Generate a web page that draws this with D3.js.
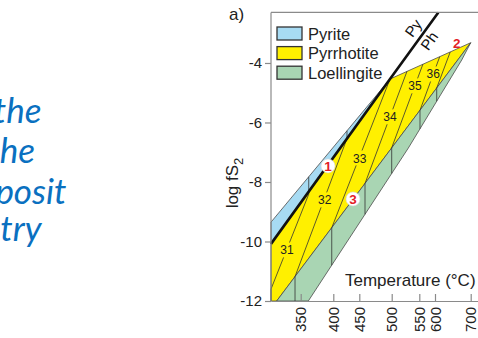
<!DOCTYPE html>
<html>
<head>
<meta charset="utf-8">
<script src="https://cdn.jsdelivr.net/npm/d3@7"></script>
<style>
  body { margin: 0; background: #fff; }
  svg { display: block; }
</style>
</head>
<body>
<svg id="chart" width="478" height="338"></svg>
<script>
// ---- Axis ticks -------------------------------------------------------
const tempTicks = [350, 400, 450, 500, 550, 600, 700];      // °C
const logTicks = [-4, -6, -8, -10, -12];                     // log fS2

// ---- Stability fields (temperature °C, log fS2) ----------------------
const phaseNames = ["Pyrite", "Pyrrhotite", "Loellingite"];
const phaseColors = ["#a7dbf3", "#fff000", "#a9d5b3"];

const pyPhBoundary = [[305, -10.08], [497.4, -4.54], [609.3, -2.30]];
const pyriteField = [[305, -9.35], [497.4, -4.54], [305, -10.08]];
const pyrrhotiteField = [[305, -10.08], [497.4, -4.54], [700, -3.32], [313.6, -12], [305, -12]];
const loellingiteField = [[313.6, -12], [700, -3.32], [674.8, -3.90], [530.1, -6.86], [361.7, -12]];
const pyriteUpperEdge = [[305, -9.35], [497.4, -4.54]];
const loellingiteLowerEdge = [[361.7, -12], [530.1, -6.86], [674.8, -3.90], [700, -3.32]];

// ---- Isopleths across the pyrrhotite field ----------------------------
const isoValues = [31, 32, 33, 34, 35, 36, 37];
const isoLow = [[305, -11.60], [341.4, -11.18], [397.6, -9.54], [458.8, -8.05], [500, -6.85], [552.2, -5.59], [604.8, -4.84]];
const isoHigh = [[362.3, -8.41], [426.3, -6.54], [497.4, -4.54], [527.7, -4.28], [561.5, -4.04], [613.2, -3.79], [642.6, -3.63]];
const isoLabelAt = [[329.2, -10.29], [386.8, -8.61], [450.6, -7.20], [497.4, -5.81], [542.2, -4.77], [594.6, -4.37], null];

// ---- Numbered sample points ------------------------------------------
const pointIds = ["1", "2", "3"];
const pointAt = [[391.9, -7.46], [660.8, -3.32], [437.9, -8.57]];
const pointCircled = [true, false, true];

// ---- Reaction line labels (text, temperature, log fS2) -----------------
const reactionLabels = [["Py", 539.1, -2.83], ["Ph", 581.9, -3.26]];

// ---- Side caption words ----------------------------------------------
const sideWords = ["the", "the", "posit", "try"];

// ======================================================================
const svg = d3.select("#chart");
const font = "'Liberation Sans', Arial, sans-serif";
const plotLeft = 271, plotRight = 478;

// The temperature axis is drawn with uneven tick spacing, so the scale is piecewise.
const tempStops = [305, 350, 400, 450, 500, 550, 600, 700, 720];
const stopOffsets = [0, 29.7, 62.3, 88.3, 120.7, 148.3, 164, 199.7, 207];
const x = d3.scaleLinear().domain(tempStops).range(stopOffsets.map(d => plotLeft + d));
const y = d3.scaleLinear().domain([-12, -2.3]).range([301, 12.4]);

const proj = p => [x(p[0]), y(p[1])];
const line = d3.line().x(d => x(d[0])).y(d => y(d[1]));

// pixel y along a projected polyline at the pixel column of temperature T
function edgeY(poly, T) {
  const px = x(T);
  const pts = poly.map(proj);
  for (let i = 0; i < pts.length - 1; i++) {
    const [x0, y0] = pts[i], [x1, y1] = pts[i + 1];
    if (px >= Math.min(x0, x1) && px <= Math.max(x0, x1) && x1 !== x0) {
      return y0 + (y1 - y0) * (px - x0) / (x1 - x0);
    }
  }
  return null;
}

// ---- Side caption ----------------------------------------------------
const sideEnd = [41.5, 35, 66.5, 41.5];
const sideBase = [123, 163, 204, 241];
svg.append("g").selectAll("text").data(sideWords).join("text")
  .attr("x", (d, i) => sideEnd[i])
  .attr("y", (d, i) => sideBase[i])
  .attr("text-anchor", "end")
  .attr("font-family", "Lato, 'Open Sans', sans-serif")
  .attr("font-style", "italic")
  .attr("font-size", 35)
  .attr("fill", "#0a70c0")
  .text(d => d);

// ---- Fields ------------------------------------------------------------
const fields = [pyriteField, pyrrhotiteField, loellingiteField];
svg.append("g").selectAll("path").data(fields).join("path")
  .attr("d", d => line(d) + "Z")
  .attr("fill", (d, i) => phaseColors[i])
  .attr("stroke", "#4a4a4a")
  .attr("stroke-width", 0.8)
  .attr("stroke-linejoin", "round");

// ---- Isopleths -----------------------------------------------------------
const isoG = svg.append("g").attr("stroke", "#333").attr("stroke-width", 0.8).attr("fill", "none");
const cornerT = pyPhBoundary[1][0];
isoValues.forEach((v, i) => {
  const a = proj(isoLow[i]), b = proj(isoHigh[i]);
  const lab = isoLabelAt[i];
  if (lab) {
    const p = proj(lab);
    const dx = b[0] - a[0], dy = b[1] - a[1];
    const len = Math.hypot(dx, dy);
    const t = ((p[0] - a[0]) * dx + (p[1] - a[1]) * dy) / (len * len);
    const g = 8 / len;
    isoG.append("line").attr("x1", a[0]).attr("y1", a[1])
      .attr("x2", a[0] + dx * (t - g)).attr("y2", a[1] + dy * (t - g));
    isoG.append("line").attr("x1", a[0] + dx * (t + g)).attr("y1", a[1] + dy * (t + g))
      .attr("x2", b[0]).attr("y2", b[1]);
  } else {
    isoG.append("line").attr("x1", a[0]).attr("y1", a[1]).attr("x2", b[0]).attr("y2", b[1]);
  }
  // vertical continuation through the loellingite field
  if (isoLow[i][1] > -12) {
    const yb = isoLow[i][0] < loellingiteLowerEdge[0][0] ? y(-12) : edgeY(loellingiteLowerEdge, isoLow[i][0]);
    isoG.append("line").attr("x1", a[0]).attr("y1", a[1]).attr("x2", a[0]).attr("y2", yb);
  }
  // vertical continuation through the pyrite field
  if (isoHigh[i][0] < cornerT - 1) {
    const yt = edgeY(pyriteUpperEdge, isoHigh[i][0]);
    isoG.append("line").attr("x1", b[0]).attr("y1", b[1]).attr("x2", b[0]).attr("y2", yt);
  }
});

svg.append("g").selectAll("text").data(isoValues.filter((d, i) => isoLabelAt[i])).join("text")
  .attr("x", (d, i) => x(isoLabelAt[i][0]))
  .attr("y", (d, i) => y(isoLabelAt[i][1]))
  .attr("dy", "0.36em")
  .attr("text-anchor", "middle")
  .attr("font-family", font)
  .attr("font-size", 12)
  .attr("fill", "#222")
  .text(d => d);

// ---- Py / Ph reaction line ------------------------------------------------
svg.append("path")
  .attr("d", line(pyPhBoundary))
  .attr("fill", "none")
  .attr("stroke", "#111")
  .attr("stroke-width", 2.6);

const pa = proj(pyPhBoundary[0]), pb = proj(pyPhBoundary[2]);
const ang = Math.atan2(pb[1] - pa[1], pb[0] - pa[0]) * 180 / Math.PI;
svg.append("g").selectAll("text").data(reactionLabels).join("text")
  .attr("transform", d => `translate(${x(d[1])},${y(d[2])}) rotate(${ang})`)
  .attr("dy", "0.35em")
  .attr("text-anchor", "middle")
  .attr("font-family", font)
  .attr("font-size", 15)
  .attr("fill", "#111")
  .text(d => d[0]);

// ---- Numbered points ----------------------------------------------------
const ptG = svg.append("g");
pointIds.forEach((id, i) => {
  const [px, py] = proj(pointAt[i]);
  if (pointCircled[i]) {
    ptG.append("circle").attr("cx", px).attr("cy", py).attr("r", 7)
      .attr("fill", "#fff").attr("stroke", "#d8d8d8").attr("stroke-width", 0.6);
  }
  ptG.append("text").attr("x", px).attr("y", py).attr("dy", "0.36em")
    .attr("text-anchor", "middle")
    .attr("font-family", font).attr("font-weight", "bold").attr("font-size", 13.5)
    .attr("fill", "#e31e26").text(id);
});

// ---- Axes ------------------------------------------------------------------
const axisColor = "#8a8a8a";
const yAxis = svg.append("g").attr("transform", `translate(${plotLeft},0)`)
  .call(d3.axisLeft(y).tickValues(logTicks).tickSize(6).tickPadding(3).tickFormat(d => String(d)));
const xAxis = svg.append("g").attr("transform", `translate(0,${y(-12)})`)
  .call(d3.axisBottom(x).tickValues(tempTicks).tickSizeInner(-7).tickSizeOuter(0));
[yAxis, xAxis].forEach(g => {
  g.selectAll(".domain, .tick line").attr("stroke", axisColor).attr("stroke-width", 1.2);
  g.selectAll("text").attr("font-family", font).attr("font-size", 15).attr("fill", "#222");
});
yAxis.select(".domain").attr("d", `M0,${y(-12)}V${y(-2.3)}`);
xAxis.selectAll("text")
  .attr("transform", "rotate(-90)")
  .attr("text-anchor", "end")
  .attr("x", -6).attr("y", 0).attr("dy", "0.35em");

// top frame edge
svg.append("line")
  .attr("x1", plotLeft).attr("x2", plotRight)
  .attr("y1", y(-2.3)).attr("y2", y(-2.3))
  .attr("stroke", axisColor).attr("stroke-width", 1.2);

// axis titles
svg.append("text")
  .attr("x", 345).attr("y", 286)
  .attr("font-family", font).attr("font-size", 17).attr("fill", "#222")
  .text("Temperature (°C)");

const yt = svg.append("text")
  .attr("transform", `translate(238,183) rotate(-90)`)
  .attr("text-anchor", "middle")
  .attr("font-family", font).attr("font-size", 17).attr("fill", "#222");
yt.append("tspan").text("log fS");
yt.append("tspan").attr("font-size", 13).attr("dy", 5).text("2");

svg.append("text")
  .attr("x", 229).attr("y", 20)
  .attr("font-family", font).attr("font-size", 17).attr("fill", "#222")
  .text("a)");

// ---- Legend -----------------------------------------------------------------
const leg = svg.append("g").attr("transform", "translate(277,27)");
const legItems = leg.selectAll("g").data(phaseNames).join("g")
  .attr("transform", (d, i) => `translate(0,${i * 19.6})`);
legItems.append("rect")
  .attr("width", 25).attr("height", 13)
  .attr("fill", (d, i) => phaseColors[i])
  .attr("stroke", "#333").attr("stroke-width", 1.3);
legItems.append("text")
  .attr("x", 31).attr("y", 12.5)
  .attr("font-family", font).attr("font-size", 16.5).attr("fill", "#222")
  .text(d => d);
</script>
</body>
</html>
